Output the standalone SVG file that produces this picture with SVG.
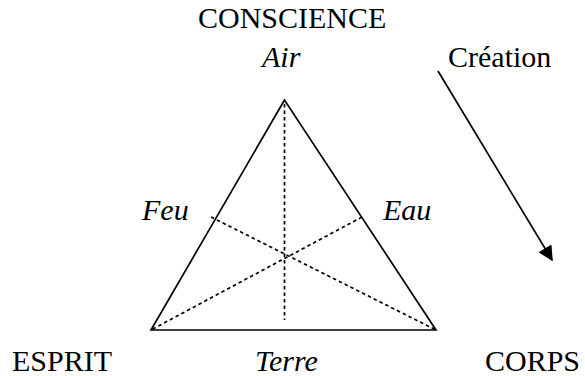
<svg xmlns="http://www.w3.org/2000/svg" width="585" height="376" viewBox="0 0 585 376">
<style>
text{font-family:"Liberation Serif","Times New Roman","DejaVu Serif",serif;font-size:30px;fill:#000}
.i{font-style:italic}
.solid{fill:none;stroke:#000;stroke-width:1.7}
.dot{fill:none;stroke:#000;stroke-width:1.7;stroke-dasharray:3.5 3}
</style>
<defs>
<marker id="ah" viewBox="0 0 10 10" refX="9" refY="5" markerWidth="16" markerHeight="15" markerUnits="userSpaceOnUse" orient="auto">
<path d="M0,0 L10,5 L0,10 z" fill="#000"/>
</marker>
</defs>
<rect width="585" height="376" fill="#fff"/>
<g id="triangle">
<polygon class="solid" points="284.5,100 151,330 436,330"/>
</g>
<g id="connectors">
<line class="dot" x1="284.5" y1="104" x2="284.5" y2="320"/>
<line class="dot" x1="211" y1="217" x2="436" y2="330"/>
<line class="dot" x1="362" y1="217" x2="151" y2="330"/>
<line class="solid" x1="438" y1="71" x2="552" y2="260" marker-end="url(#ah)"/>
</g>
<g id="conscience"><text x="198" y="28">CONSCIENCE</text><text class="i" x="262" y="67">Air</text></g>
<g id="creation"><text x="448" y="67">Création</text></g>
<g id="feu"><text class="i" x="142" y="220">Feu</text></g>
<g id="eau"><text class="i" x="383" y="220">Eau</text></g>
<g id="esprit"><text x="12" y="371">ESPRIT</text></g>
<g id="terre"><text class="i" x="255" y="371">Terre</text></g>
<g id="corps"><text x="485" y="371">CORPS</text></g>
</svg>
